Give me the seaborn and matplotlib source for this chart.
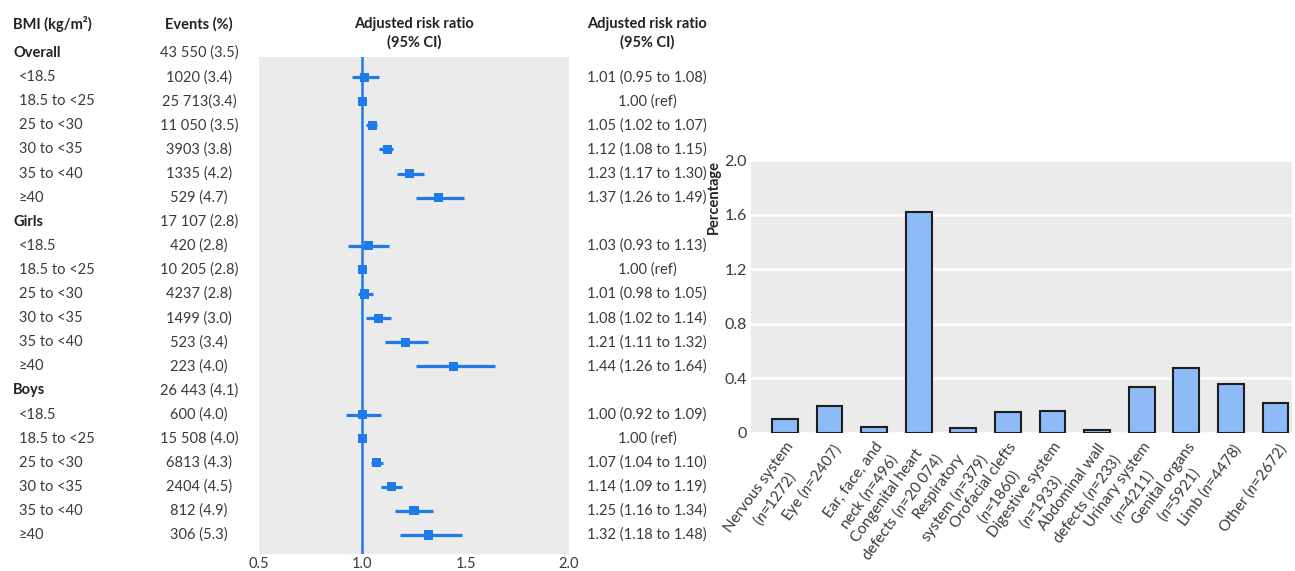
import numpy as np
import pandas as pd
import matplotlib
matplotlib.use("Agg")
import matplotlib.pyplot as plt
import matplotlib.transforms as mtransforms
import seaborn as sns

# ---------------- data ----------------
row_labels = ["Overall", "<18.5", "18.5 to <25", "25 to <30", "30 to <35", "35 to <40", "≥40",
              "Girls", "<18.5", "18.5 to <25", "25 to <30", "30 to <35", "35 to <40", "≥40",
              "Boys", "<18.5", "18.5 to <25", "25 to <30", "30 to <35", "35 to <40", "≥40"]
row_is_group = [True, False, False, False, False, False, False,
                True, False, False, False, False, False, False,
                True, False, False, False, False, False, False]
events = ["43 550 (3.5)", "1020 (3.4)", "25 713(3.4)", "11 050 (3.5)", "3903 (3.8)", "1335 (4.2)", "529 (4.7)",
          "17 107 (2.8)", "420 (2.8)", "10 205 (2.8)", "4237 (2.8)", "1499 (3.0)", "523 (3.4)", "223 (4.0)",
          "26 443 (4.1)", "600 (4.0)", "15 508 (4.0)", "6813 (4.3)", "2404 (4.5)", "812 (4.9)", "306 (5.3)"]
nan = np.nan
rr_est = [nan, 1.01, 1.00, 1.05, 1.12, 1.23, 1.37,
          nan, 1.03, 1.00, 1.01, 1.08, 1.21, 1.44,
          nan, 1.00, 1.00, 1.07, 1.14, 1.25, 1.32]
rr_lo = [nan, 0.95, nan, 1.02, 1.08, 1.17, 1.26,
         nan, 0.93, nan, 0.98, 1.02, 1.11, 1.26,
         nan, 0.92, nan, 1.04, 1.09, 1.16, 1.18]
rr_hi = [nan, 1.08, nan, 1.07, 1.15, 1.30, 1.49,
         nan, 1.13, nan, 1.05, 1.14, 1.32, 1.64,
         nan, 1.09, nan, 1.10, 1.19, 1.34, 1.48]
forest_ticks = [0.5, 1.0, 1.5, 2.0]
forest_ticklabels = ["0.5", "1.0", "1.5", "2.0"]

defect_names = ["Nervous system\n($\\it{n}$=1272)", "Eye ($\\it{n}$=2407)",
                "Ear, face, and\nneck ($\\it{n}$=496)", "Congenital heart\ndefects ($\\it{n}$=20 074)",
                "Respiratory\nsystem ($\\it{n}$=379)", "Orofacial clefts\n($\\it{n}$=1860)",
                "Digestive system\n($\\it{n}$=1933)", "Abdominal wall\ndefects ($\\it{n}$=233)",
                "Urinary system\n($\\it{n}$=4211)", "Genital organs\n($\\it{n}$=5921)",
                "Limb ($\\it{n}$=4478)", "Other ($\\it{n}$=2672)"]
defect_pct = [0.105, 0.197, 0.046, 1.616, 0.034, 0.153, 0.158, 0.022, 0.338, 0.474, 0.360, 0.217]
bar_yticks = [0, 0.4, 0.8, 1.2, 1.6, 2.0]
bar_yticklabels = ["0", "0.4", "0.8", "1.2", "1.6", "2.0"]

# ---------------- style ----------------
sns.set_style("white")
plt.rcParams["font.family"] = ["Lato", "DejaVu Sans"]
plt.rcParams["mathtext.fontset"] = "custom"
plt.rcParams["mathtext.rm"] = "Lato"
plt.rcParams["mathtext.it"] = "Lato:italic"
plt.rcParams["mathtext.bf"] = "Lato:bold"

BLUE = "#1F7BEA"
GRAY_BG = "#EBEBEB"
BAR_FILL = "#8DBBF8"
TXT = "#3A3A3A"
TXT_B = "#222222"

W, H = 1295, 571
fig = plt.figure(figsize=(W / 100, H / 100), dpi=100)

def fx(px):
    return px / W

def fy(py):
    return 1 - py / H

# ---------------- forest plot ----------------
axf = fig.add_axes([fx(259), fy(554), fx(569) - fx(259), fy(57) - fy(554)])
axf.set_facecolor(GRAY_BG)
n_rows = len(row_labels)
y_idx = np.arange(n_rows)
row0_px, step_px = 53.0, 24.1

forest_df = pd.DataFrame({"row": y_idx, "est": rr_est, "lo": rr_lo, "hi": rr_hi})
ci = forest_df.dropna(subset=["lo"])
axf.hlines(ci["row"], ci["lo"], ci["hi"], color=BLUE, lw=2.3, zorder=3)
axf.axvline(1.0, color=BLUE, lw=1.8, zorder=2)
pts = forest_df.dropna(subset=["est"])
sns.scatterplot(data=pts, x="est", y="row", marker="s", s=42, color=BLUE,
                edgecolor="none", linewidth=0, ax=axf, zorder=4, legend=False)
axf.set_ylim((554 - row0_px) / step_px, (57 - row0_px) / step_px)
axf.set_xlim(0.5, 2.0)
axf.set_xlabel("")
axf.set_ylabel("")
axf.set_yticks([])
axf.set_xticks(forest_ticks)
axf.set_xticklabels(forest_ticklabels, fontsize=10.5, color=TXT)
axf.tick_params(axis="x", direction="in", length=4, width=1.2, color="white", pad=2)
for s in axf.spines.values():
    s.set_visible(False)

tr = mtransforms.blended_transform_factory(fig.transFigure, axf.transData)
for i, (lab, grp, ev, est, lo, hi) in enumerate(zip(row_labels, row_is_group, events, rr_est, rr_lo, rr_hi)):
    if grp:
        fig.text(fx(13), i, lab, transform=tr, ha="left", va="center",
                 fontsize=10.5, fontweight="bold", color=TXT_B)
    else:
        fig.text(fx(19), i, lab, transform=tr, ha="left", va="center",
                 fontsize=10.5, color=TXT)
    fig.text(fx(199), i, ev, transform=tr, ha="center", va="center", fontsize=10.5, color=TXT)
    if not np.isnan(est):
        if np.isnan(lo):
            s = f"{est:.2f} (ref)"
        else:
            s = f"{est:.2f} ({lo:.2f} to {hi:.2f})"
        fig.text(fx(647), i, s, transform=tr, ha="center", va="center", fontsize=10.5, color=TXT)

hdr = dict(fontsize=10.5, fontweight="bold", color=TXT_B, va="center")
fig.text(fx(13), fy(24), "BMI (kg/m²)", ha="left", **hdr)
fig.text(fx(199), fy(24), "Events (%)", ha="center", **hdr)
fig.text(fx(414), fy(24), "Adjusted risk ratio", ha="center", **hdr)
fig.text(fx(414), fy(42), "(95% CI)", ha="center", **hdr)
fig.text(fx(647), fy(24), "Adjusted risk ratio", ha="center", **hdr)
fig.text(fx(647), fy(42), "(95% CI)", ha="center", **hdr)

# ---------------- bar chart ----------------
axb = fig.add_axes([fx(751), fy(433), fx(1292) - fx(751), fy(160) - fy(433)])
axb.set_facecolor(GRAY_BG)
bar_df = pd.DataFrame({"defect": defect_names, "pct": defect_pct})
sns.barplot(data=bar_df, x="defect", y="pct", color=BAR_FILL, saturation=1,
            edgecolor="#1E1E1E", linewidth=1.5, width=0.58, ax=axb, zorder=3)
axb.set_ylim(0, 2.0)
axb.set_xlim(-0.76, 11.37)
axb.set_yticks(bar_yticks)
axb.set_yticklabels(bar_yticklabels, fontsize=11.5, color=TXT)
axb.yaxis.grid(True, color="white", lw=1.8, zorder=0)
axb.xaxis.grid(False)
axb.set_axisbelow(True)
axb.tick_params(axis="y", length=0, pad=3)
axb.tick_params(axis="x", length=0, pad=5)
axb.set_xticks(range(len(defect_names)))
axb.set_xticklabels(defect_names, rotation=54, ha="right", va="top",
                    rotation_mode="anchor", multialignment="center",
                    fontsize=11, color=TXT)
axb.set_xlabel("")
axb.set_ylabel("Percentage", fontsize=10.5, fontweight="bold", color=TXT_B)
axb.yaxis.set_label_coords(-0.056, 0.864)
for s in axb.spines.values():
    s.set_visible(False)

fig.savefig("out.png", dpi=100)
